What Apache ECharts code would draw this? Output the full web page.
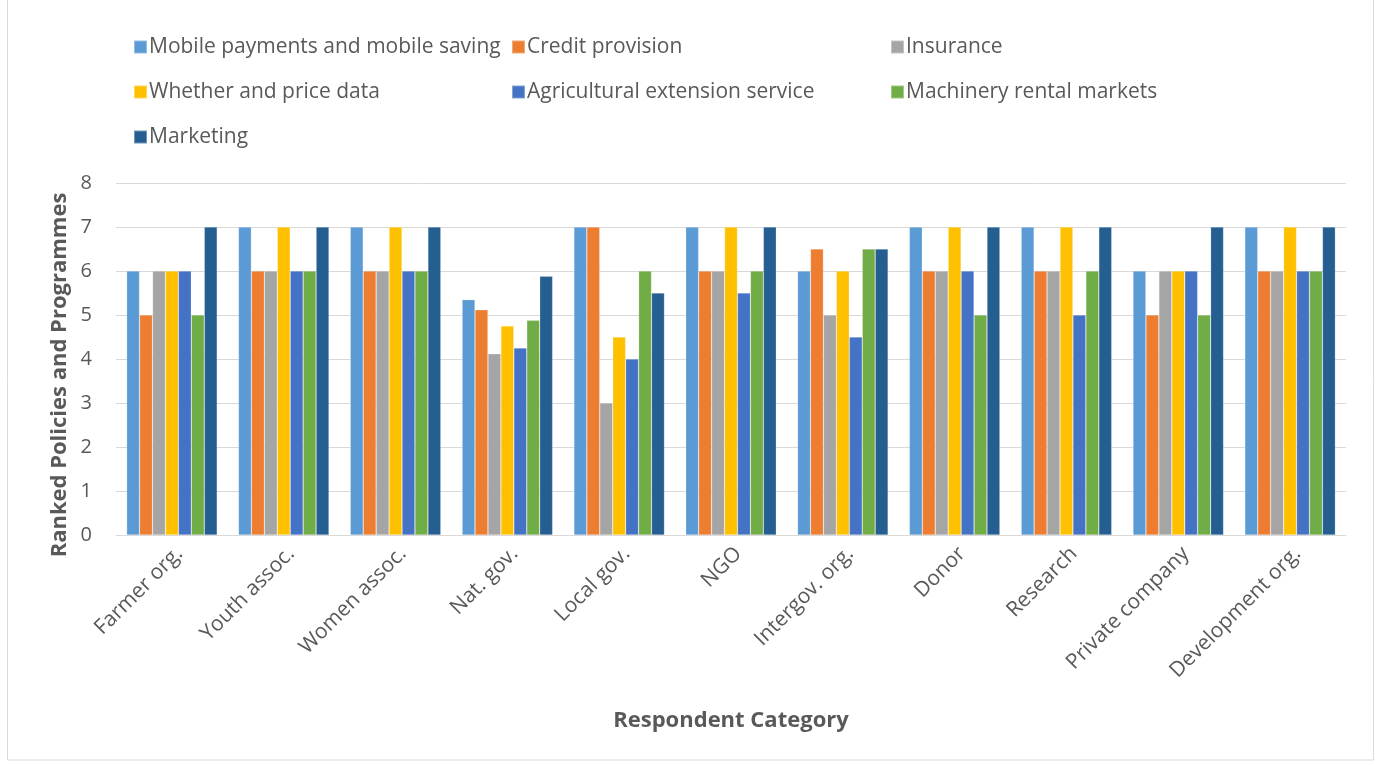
<!DOCTYPE html>
<html>
<head>
<meta charset="utf-8">
<script src="https://cdn.jsdelivr.net/npm/echarts@6/dist/echarts.min.js"></script>
<style>
  html, body { margin: 0; padding: 0; background: #ffffff; }
  #chart { width: 1381px; height: 765px; }
</style>
</head>
<body>
<div id="chart"></div>
<script>
// Respondent categories along the x axis
const categories = ['Farmer org.', 'Youth assoc.', 'Women assoc.', 'Nat. gov.', 'Local gov.', 'NGO',
  'Intergov. org.', 'Donor', 'Research', 'Private company', 'Development org.'];

// Ranked score per policy / programme, one value per category
const mobilePayments = [6, 7, 7, 5.35, 7, 7, 6, 7, 7, 6, 7];
const creditProvision = [5, 6, 6, 5.12, 7, 6, 6.5, 6, 6, 5, 6];
const insurance = [6, 6, 6, 4.12, 3, 6, 5, 6, 6, 6, 6];
const weatherPrice = [6, 7, 7, 4.75, 4.5, 7, 6, 7, 7, 6, 7];
const extensionService = [6, 6, 6, 4.25, 4, 5.5, 4.5, 6, 5, 6, 6];
const machineryRental = [5, 6, 6, 4.88, 6, 6, 6.5, 5, 6, 5, 6];
const marketing = [7, 7, 7, 5.88, 5.5, 7, 6.5, 7, 7, 7, 7];

const seriesNames = ['Mobile payments and mobile saving', 'Credit provision', 'Insurance',
  'Whether and price data', 'Agricultural extension service', 'Machinery rental markets', 'Marketing'];
const seriesValues = [mobilePayments, creditProvision, insurance, weatherPrice,
  extensionService, machineryRental, marketing];
const colors = ['#5B9BD5', '#ED7D31', '#A5A5A5', '#FFC000', '#4472C4', '#70AD47', '#255E91'];

// Y axis ticks
const yMin = 0, yMax = 8, yStep = 1;

const FONT = '"Open Sans", Lato, sans-serif';
const TEXT = '#595959';

function legendColumn(left, names) {
  return {
    orient: 'vertical',
    left: left,
    top: 31,
    itemWidth: 13,
    itemHeight: 13,
    itemGap: 23,
    icon: 'rect',
    data: names,
    textStyle: { fontFamily: FONT, fontSize: 21, color: TEXT, lineHeight: 22, padding: [0, 0, 0, -3] }
  };
}

const chart = echarts.init(document.getElementById('chart'), null, { renderer: 'canvas' });

chart.setOption({
  animation: false,
  color: colors,
  backgroundColor: '#ffffff',
  textStyle: { fontFamily: FONT },
  legend: [
    legendColumn(128, [seriesNames[0], seriesNames[3], seriesNames[6]]),
    legendColumn(506, [seriesNames[1], seriesNames[4]]),
    legendColumn(885, [seriesNames[2], seriesNames[5]])
  ],
  grid: { left: 116, right: 35, top: 183, bottom: 230, containLabel: false },
  xAxis: {
    type: 'category',
    data: categories,
    name: 'Respondent Category',
    nameLocation: 'middle',
    nameGap: 175,
    nameTextStyle: { fontFamily: FONT, fontSize: 22, fontWeight: 'bold', color: TEXT },
    axisLine: { show: true, lineStyle: { color: '#D9D9D9', width: 1 } },
    axisTick: { show: false },
    axisLabel: {
      rotate: 45, fontFamily: FONT, fontSize: 21, color: TEXT,
      margin: 8, interval: 0, verticalAlign: 'top'
    }
  },
  yAxis: {
    type: 'value',
    min: yMin,
    max: yMax,
    interval: yStep,
    axisLine: { show: false },
    axisTick: { show: false },
    axisLabel: { fontFamily: FONT, fontSize: 20, color: TEXT, margin: 24 },
    splitLine: { show: true, lineStyle: { color: '#D9D9D9', width: 1 } }
  },
  series: seriesNames.map((name, i) => ({
    name: name,
    type: 'bar',
    data: seriesValues[i],
    barGap: '0%',
    barCategoryGap: '19%',
    itemStyle: { color: colors[i], borderColor: 'rgba(255,255,255,0.35)', borderWidth: 0.6 }
  })),
  graphic: [{
    type: 'rect',
    shape: { x: 7.5, y: -2, width: 1366, height: 762 },
    style: { fill: 'none', stroke: '#D9D9D9', lineWidth: 1 },
    silent: true
  }, {
    // vertical axis title
    type: 'text',
    x: 60,
    y: 375,
    rotation: Math.PI / 2,
    style: {
      text: 'Ranked Policies and Programmes',
      fontFamily: FONT, fontSize: 22, fontWeight: 'bold', fill: TEXT,
      align: 'center', verticalAlign: 'middle'
    },
    silent: true
  }]
});
</script>
</body>
</html>
